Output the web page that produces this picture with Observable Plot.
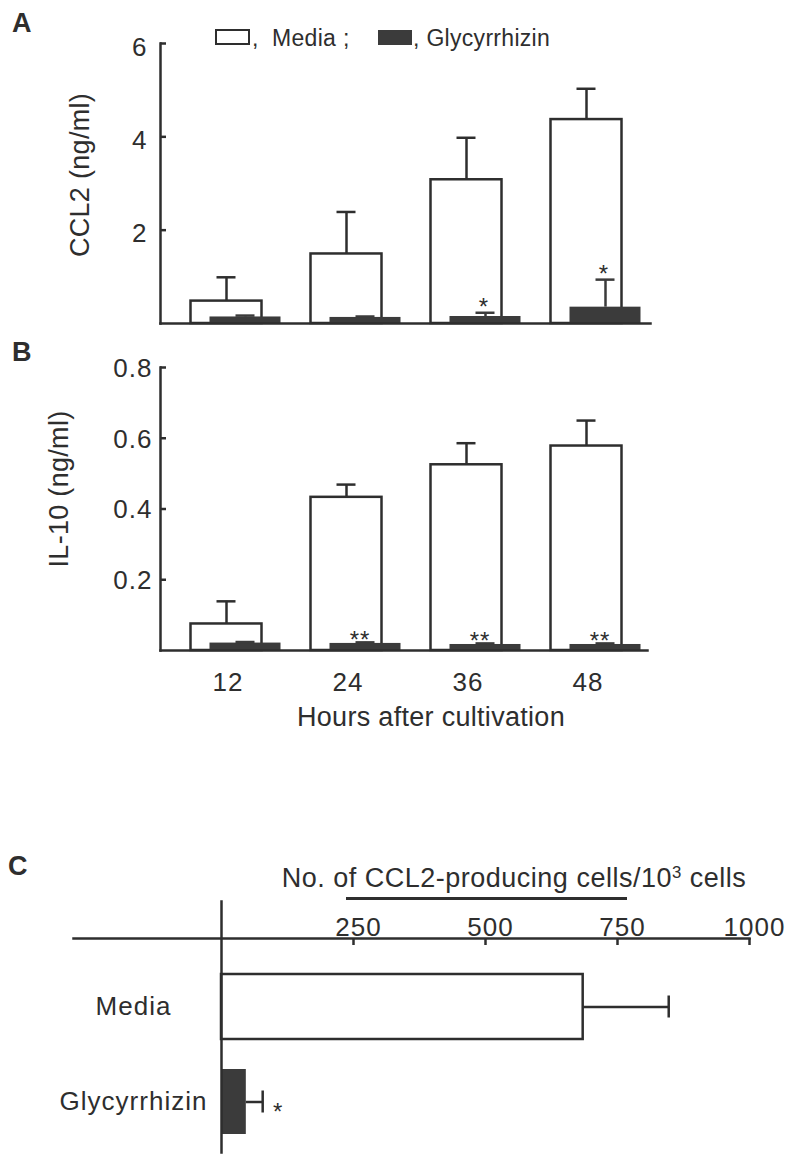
<!DOCTYPE html>
<html><head><meta charset="utf-8">
<script src="https://cdn.jsdelivr.net/npm/d3@7"></script>
<script src="https://cdn.jsdelivr.net/npm/@observablehq/plot@0.6"></script>
<style>
html,body{margin:0;padding:0;background:#fff;overflow:hidden;}
#wrap{position:relative;width:795px;height:1162px;font-family:"Liberation Sans",Arial,Helvetica,sans-serif;color:#2e2e2e;background:#fff;overflow:hidden;}
.abs{position:absolute;white-space:nowrap;line-height:1;}
.letter{font-weight:bold;font-size:27px;}
.rot{transform:translate(-50%,-50%) rotate(-90deg);font-size:27px;letter-spacing:0.3px;}
</style></head>
<body><div id="wrap"></div>
<script>
// ---- data ----
const hours = [12, 24, 36, 48];
const ccl2Media    = [0.48, 1.49, 3.08, 4.37];
const ccl2MediaErr = [0.51, 0.90, 0.90, 0.66];
const ccl2Gly      = [0.14, 0.13, 0.15, 0.35];
const ccl2GlyErr   = [0.03, 0.02, 0.08, 0.59];
const ccl2Sig      = ["", "", "*", "*"];
const ccl2Ticks    = [2, 4, 6];

const il10Media    = [0.075, 0.433, 0.525, 0.578];
const il10MediaErr = [0.064, 0.036, 0.061, 0.072];
const il10Gly      = [0.021, 0.020, 0.017, 0.017];
const il10GlyErr   = [0.003, 0.003, 0.003, 0.003];
const il10Sig      = ["", "**", "**", "**"];
const il10Ticks    = [0.2, 0.4, 0.6, 0.8];

const groupsC   = ["Media", "Glycyrrhizin"];
const cellsC    = [685, 47];
const cellsErrC = [162, 31];
const sigC      = ["", "*"];
const cellTicks = [250, 500, 750, 1000];

// ---- styles ----
const FONT = '"Liberation Sans", Arial, Helvetica, sans-serif';
const INK = "#2e2e2e";
const DARK = "#3b3b3b";
const SW = 2.5;
const wrap = document.getElementById("wrap");
const svgStyle = {fontFamily: FONT, fontSize: "26px", color: INK, background: "transparent", overflow: "visible", letterSpacing: "1px"};

function place(el, top) {
  el.style.position = "absolute";
  el.style.left = "0px";
  el.style.top = top + "px";
  el.style.overflow = "visible";
  el.style.background = "transparent";
  wrap.appendChild(el);
}
function html(str, css, cls) {
  const d = document.createElement("div");
  d.className = "abs " + (cls || "");
  d.innerHTML = str;
  Object.assign(d.style, css);
  wrap.appendChild(d);
  return d;
}

function barPanel(o) {
  const rows = hours.map((h, i) => ({
    hour: h, media: o.media[i], mediaTop: o.media[i] + o.mediaErr[i],
    gly: o.gly[i], glyTop: o.gly[i] + o.glyErr[i], sig: o.sig[i]
  }));
  const frameW = 795 - 160 - o.marginRight;
  const marks = [
    Plot.barY(rows, {x: "hour", y: "media", fill: "white", stroke: INK, strokeWidth: SW, dx: -9.5}),
    Plot.ruleX(rows, {x: "hour", y1: "media", y2: "mediaTop", stroke: INK, strokeWidth: SW, dx: -9.5}),
    Plot.tickY(rows, {x: "hour", y: "mediaTop", stroke: INK, strokeWidth: SW, insetLeft: 26, insetRight: 26, dx: -9.5}),
    Plot.barY(rows, {x: "hour", y: "gly", fill: DARK, dx: 9.5}),
    Plot.ruleX(rows, {x: "hour", y1: "gly", y2: "glyTop", stroke: DARK, strokeWidth: SW, dx: 9.5}),
    Plot.tickY(rows, {x: "hour", y: "glyTop", stroke: DARK, strokeWidth: SW, insetLeft: 26, insetRight: 26, dx: 9.5}),
    Plot.text(rows, {x: "hour", y: "glyTop", text: "sig", dx: o.starDx, dy: o.starDy, fontSize: 24, fill: INK}),
    Plot.tickY(o.ticks, {y: d => d, stroke: INK, strokeWidth: SW, insetRight: frameW - 6}),
    Plot.frame({anchor: "left", stroke: INK, strokeWidth: SW}),
    Plot.frame({anchor: "bottom", stroke: INK, strokeWidth: SW}),
    Plot.axisY(o.ticks, {tickSize: 0, tickPadding: o.labelPad, dy: o.labelDy, fontSize: 26, fill: INK, label: null})
  ];
  if (o.xAxis) marks.push(Plot.axisX(hours, {tickSize: 0, tickPadding: 22, dx: -8, fontSize: 26, fill: INK, label: null}));
  return Plot.plot({
    width: 795, height: o.height,
    marginLeft: 160, marginRight: o.marginRight, marginTop: o.marginTop, marginBottom: o.marginBottom,
    style: svgStyle,
    x: {type: "band", domain: hours, range: [149, 681], padding: 0.41, label: null, ...(o.xAxis ? {} : {axis: null})},
    y: {domain: o.domain, label: null},
    marks
  });
}

// Panel A
place(barPanel({media: ccl2Media, mediaErr: ccl2MediaErr, gly: ccl2Gly, glyErr: ccl2GlyErr, sig: ccl2Sig,
  ticks: ccl2Ticks, domain: [0, 6], height: 335, marginTop: 43, marginBottom: 12, marginRight: 145,
  labelPad: 13, labelDy: 4, starDx: 8, starDy: -5, xAxis: false}), 0);

// Panel B
place(barPanel({media: il10Media, mediaErr: il10MediaErr, gly: il10Gly, glyErr: il10GlyErr, sig: il10Sig,
  ticks: il10Ticks, domain: [0, 0.8], height: 360, marginTop: 27, marginBottom: 50, marginRight: 148,
  labelPad: 8, labelDy: 1, starDx: 4, starDy: -2, xAxis: true}), 340);

// Panel C
const rowsC = groupsC.map((g, i) => ({group: g, value: cellsC[i], top: cellsC[i] + cellsErrC[i], sig: sigC[i]}));
const plotC = Plot.plot({
  width: 795, height: 322, marginLeft: 221, marginRight: 46, marginTop: 98, marginBottom: 10,
  style: svgStyle,
  x: {domain: [0, 1000], label: null},
  y: {type: "band", domain: groupsC, range: [102.8, 325.5], padding: 0.32, label: null},
  marks: [
    Plot.barX(rowsC.filter(d => d.group === "Media"), {x: "value", y: "group", fill: "white", stroke: INK, strokeWidth: SW}),
    Plot.barX(rowsC.filter(d => d.group !== "Media"), {x: "value", y: "group", fill: DARK}),
    Plot.ruleY(rowsC, {x1: "value", x2: "top", y: "group", stroke: INK, strokeWidth: SW}),
    Plot.tickX(rowsC, {x: "top", y: "group", insetTop: 21.5, insetBottom: 21.5, stroke: INK, strokeWidth: SW}),
    Plot.text(rowsC, {x: "top", y: "group", text: "sig", dx: 15.5, dy: 10, fontSize: 24, fill: INK}),
    Plot.tickX(cellTicks, {x: d => d, insetBottom: 214 - 7, stroke: INK, strokeWidth: SW}),
    Plot.frame({anchor: "top", insetLeft: -148, stroke: INK, strokeWidth: SW}),
    Plot.frame({anchor: "left", insetTop: -37, stroke: INK, strokeWidth: SW}),
    Plot.axisX(cellTicks, {anchor: "top", tickSize: 0, tickPadding: 3, dx: 5, fontSize: 26, fill: INK, label: null, tickFormat: d => String(d)}),
    Plot.axisY(groupsC, {tickSize: 0, tickPadding: 88, textAnchor: "middle", fontSize: 26, fill: INK, label: null})
  ]
});
place(plotC, 840);

// ---- HTML text: letters, titles, legend ----
html("A", {left: "12px", top: "10px"}, "letter");
html("B", {left: "12px", top: "339px"}, "letter");
html("C", {left: "8px", top: "853px"}, "letter");

html("CCL2 (ng/ml)", {left: "80px", top: "175px"}, "rot");
html("IL-10 (ng/ml)", {left: "59px", top: "489px"}, "rot");
html("Hours after cultivation", {left: "431px", top: "704px", fontSize: "27px", letterSpacing: "0.3px", transform: "translateX(-50%)"});

// legend
html("", {left: "215px", top: "29px", width: "35px", height: "16px", border: "2.5px solid " + INK, boxSizing: "border-box", background: "#fff"});
html(",&nbsp; Media ;", {left: "252px", top: "27px", fontSize: "23px", letterSpacing: "0.3px"});
html("", {left: "378px", top: "30px", width: "34px", height: "15px", background: DARK});
html(", Glycyrrhizin", {left: "413px", top: "27px", fontSize: "23px", letterSpacing: "0.3px"});

// panel C title with underline
html("No. of CCL2-producing cells/10<sup style='font-size:0.62em;vertical-align:0.55em;line-height:0'>3</sup> cells",
  {left: "514px", top: "865px", fontSize: "27px", letterSpacing: "0.5px", transform: "translateX(-50%)"});
html("", {left: "346px", top: "897px", width: "281px", height: "2.5px", background: INK});
</script>
</body></html>
